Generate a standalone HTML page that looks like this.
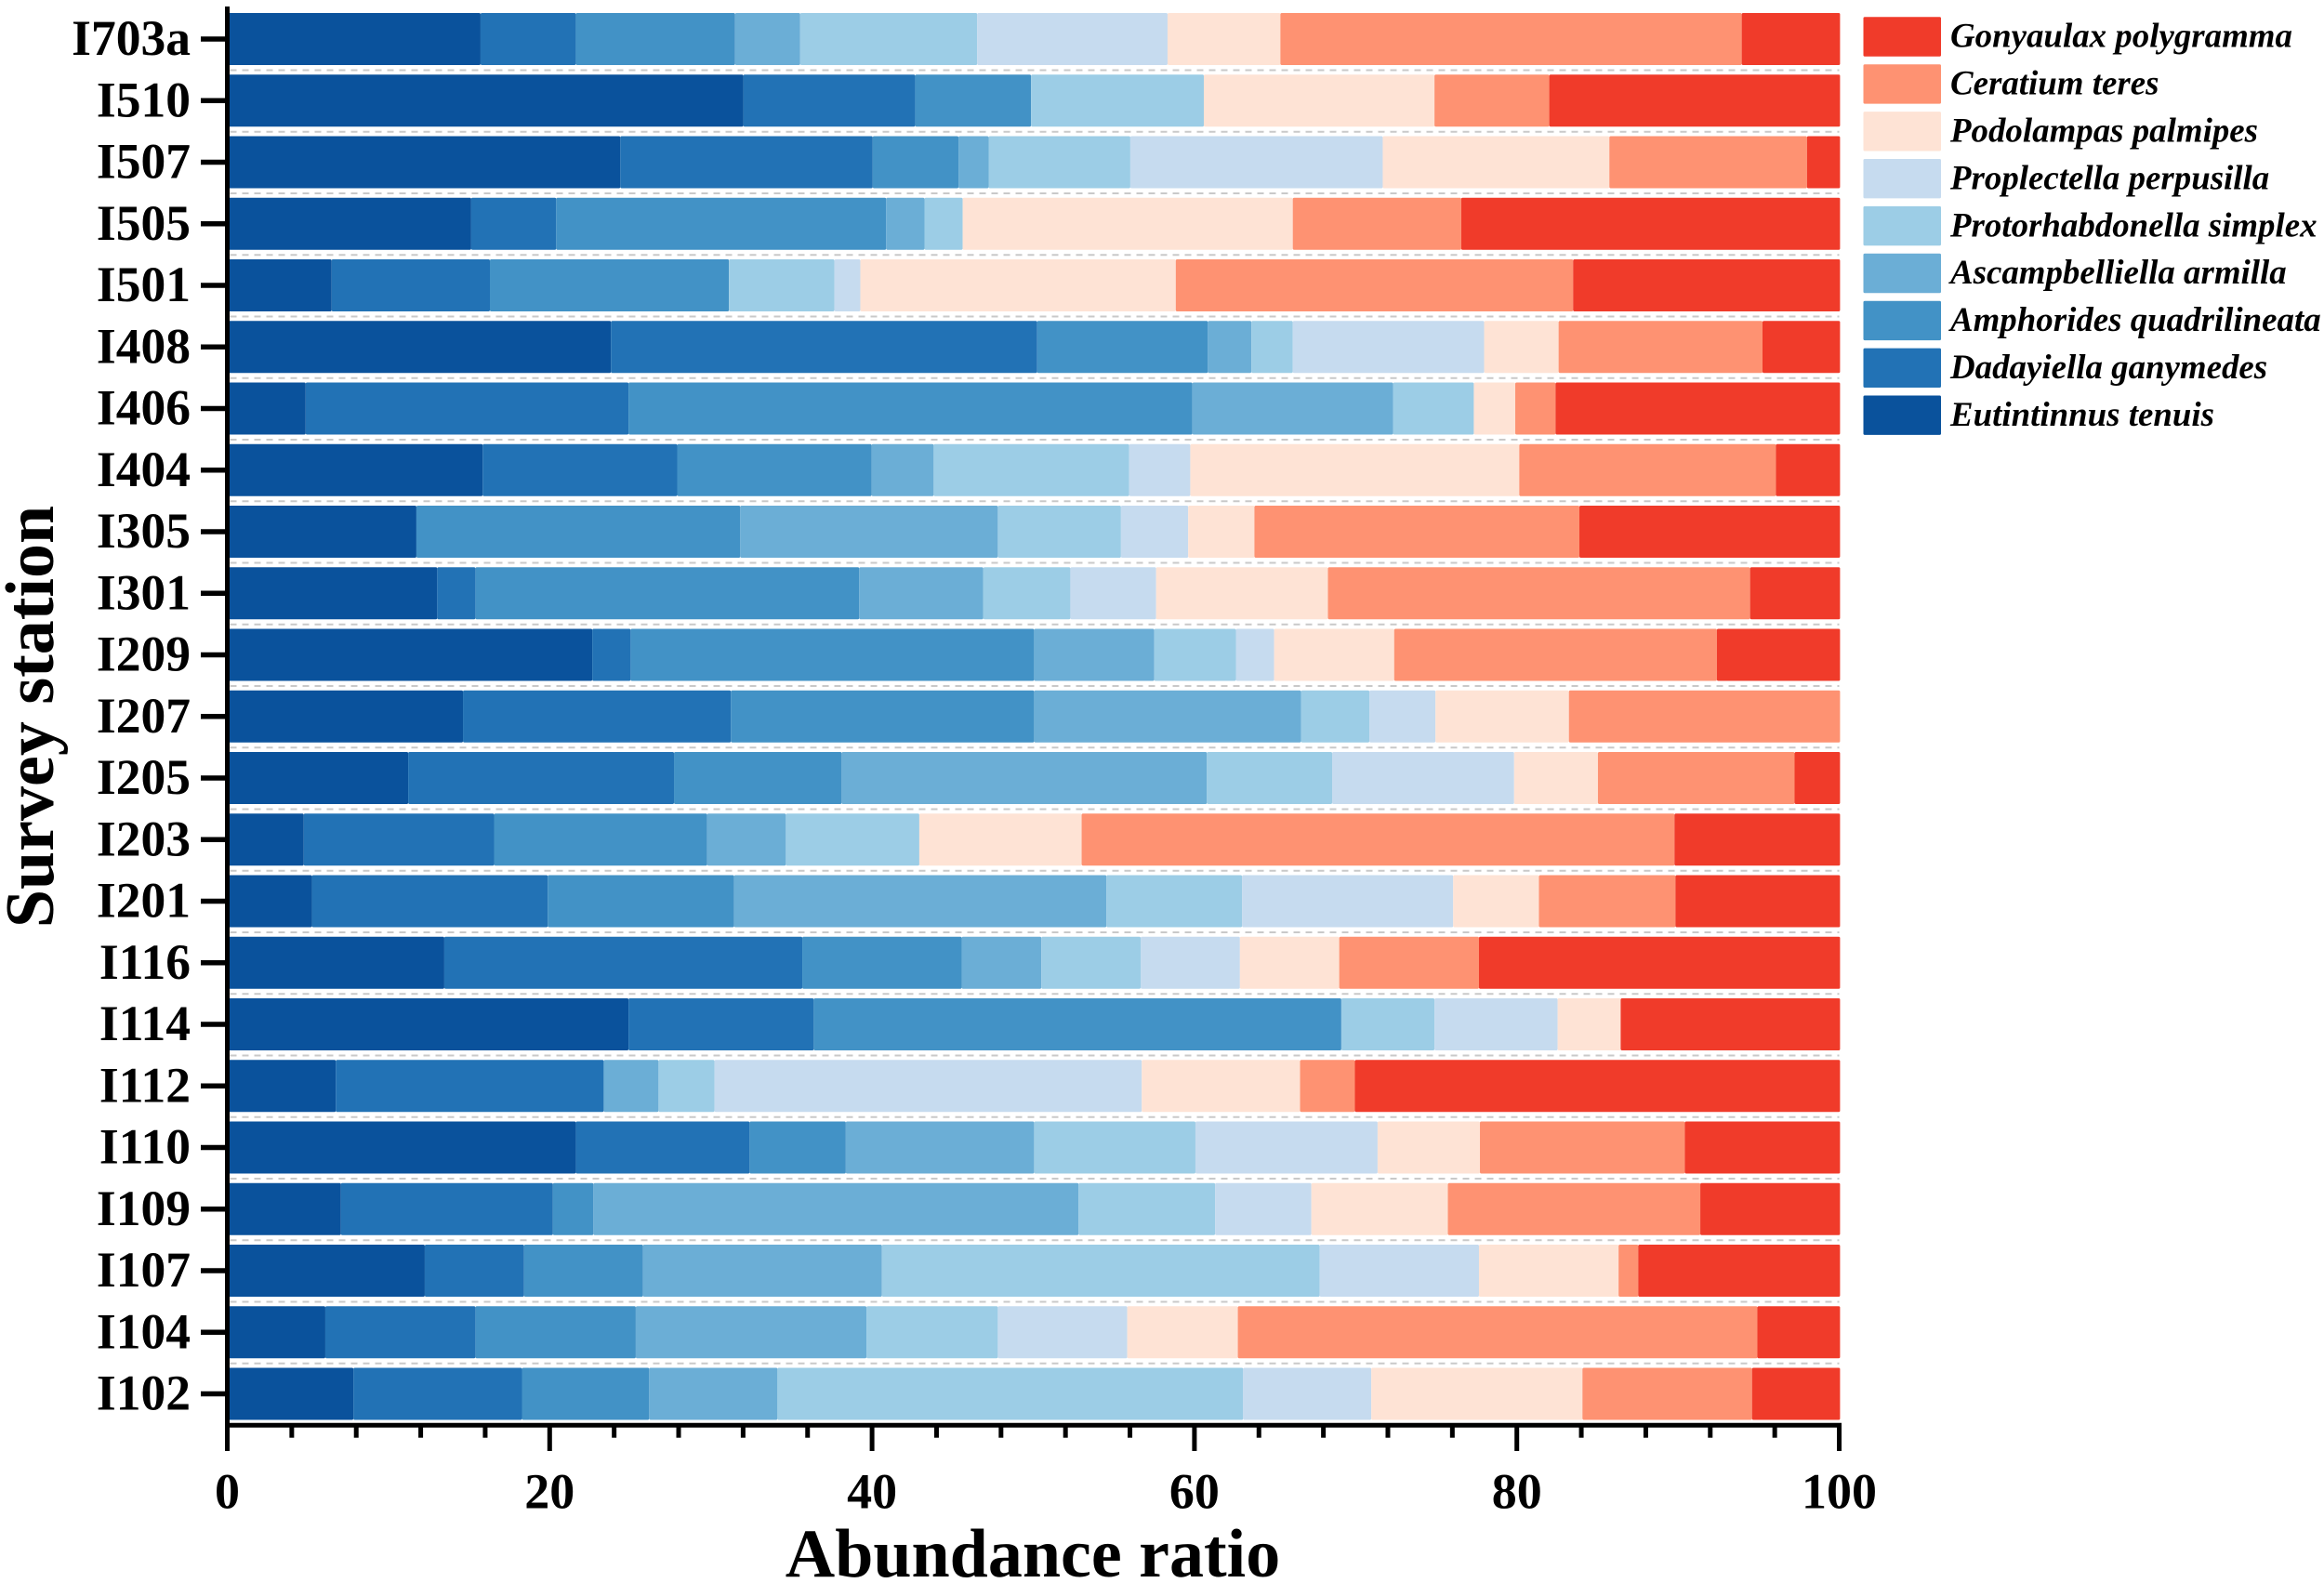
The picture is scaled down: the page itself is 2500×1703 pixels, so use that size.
<!DOCTYPE html>
<html lang="en">
<head>
<meta charset="utf-8">
<title>Abundance ratio by survey station</title>
<style>
html,body{margin:0;padding:0;background:#fff;}
svg{display:block;}
text{font-family:"Liberation Serif","Times New Roman",serif;font-weight:bold;fill:#000;}
</style>
</head>
<body>
<svg id="chart" xmlns="http://www.w3.org/2000/svg" width="2500" height="1703" viewBox="0 0 2500 1703">
  <rect x="0" y="0" width="2500" height="1703" fill="#ffffff"/>
  <g id="separators"></g>
  <g id="bars"></g>
  <g id="axes"></g>
  <g id="legend"></g>
  <text x="1111" y="1696" font-size="74" text-anchor="middle">Abundance ratio</text>
  <text transform="translate(57,771) rotate(-90)" font-size="74" text-anchor="middle">Survey station</text>
</svg>
<script>
const categories = ["I703a","I510","I507","I505","I501","I408","I406","I404","I305","I301","I209","I207","I205","I203","I201","I116","I114","I112","I110","I109","I107","I104","I102"];
const eutintinnus = [15.66,31.96,24.33,15.08,6.42,23.75,4.81,15.79,11.68,12.97,22.59,14.57,11.17,4.69,5.2,13.41,24.84,6.68,21.57,7,12.2,6.03,7.77];
const dadayiella = [5.91,10.66,15.66,5.27,9.82,26.44,20.03,12.07,0,2.37,2.38,16.62,16.49,11.81,14.63,22.21,11.49,16.62,10.78,13.15,6.16,9.31,10.46];
const amphorides = [9.88,7.19,5.32,20.47,14.83,10.59,34.98,12.06,20.09,23.81,25.03,18.81,10.4,13.22,11.56,9.89,32.73,0,5.97,2.51,7.38,9.95,7.89];
const ascampbelliella = [4.04,0,1.87,2.38,0,2.7,12.45,3.85,15.98,7.7,7.45,16.56,22.66,4.88,23.1,4.94,0,3.4,11.68,30.1,14.82,14.31,7.96];
const protorhabdonella = [10.98,10.72,8.79,2.37,6.54,2.57,5.01,12.13,7.64,5.4,5.07,4.24,7.77,8.28,8.41,6.16,5.78,3.47,10.01,8.47,27.16,8.15,28.89];
const proplectella = [11.81,0,15.66,0,1.61,11.87,0,3.79,4.17,5.32,2.37,4.1,11.29,0,13.1,6.16,7.64,26.51,11.3,5.97,9.88,8.03,7.95];
const podolampas = [7,14.31,14.06,20.48,19.57,4.62,2.57,20.41,4.11,10.66,7.45,8.28,5.2,10.07,5.32,6.16,3.91,9.82,6.35,8.47,8.66,6.86,13.1];
const ceratium = [28.62,7.12,12.26,10.45,24.65,12.65,2.5,15.92,20.16,26.19,20.02,16.82,12.2,36.78,8.47,8.67,0,3.4,12.71,15.66,1.22,32.23,10.52];
const gonyaulax = [6.1,18.04,2.05,23.5,16.56,4.81,17.65,3.98,16.17,5.58,7.64,0,2.82,10.27,10.21,22.4,13.61,30.1,9.63,8.67,12.52,5.13,5.46];
const xTickLabels = [0,20,40,60,80,100];
const minorTickValues = [4,8,12,16,24,28,32,36,44,48,52,56,64,68,72,76,84,88,92,96];
const seriesNames = ["Eutintinnus tenuis","Dadayiella ganymedes","Amphorides quadrilineata","Ascampbelliella armilla","Protorhabdonella simplex","Proplectella perpusilla","Podolampas palmipes","Ceratium teres","Gonyaulax polygramma"];
const seriesValues = [eutintinnus,dadayiella,amphorides,ascampbelliella,protorhabdonella,proplectella,podolampas,ceratium,gonyaulax];
const seriesColors = ["#0a529c","#2272b5","#4292c6","#6baed6","#9ccde6","#c6dbef","#fee3d5","#fe9272","#f03b2a"];

const NS = "http://www.w3.org/2000/svg";
function xScale(v){ return 244.5 + 17.34 * v; }
function barScale(v){ return xScale(v) + 0.9; }
function rowTop(i){ return 14 + 66.25 * i; }
function rowCenter(i){ return rowTop(i) + 28; }
const BAR_H = 56;
function slug(s){ return s.toLowerCase().replace(/\s+/g,'-'); }
function mk(parent, tag, attrs, txt){
  const el = document.createElementNS(NS, tag);
  for (const k in attrs) el.setAttribute(k, attrs[k]);
  if (txt !== undefined) el.textContent = txt;
  parent.appendChild(el);
  return el;
}
const gSep = document.getElementById('separators');
const gBars = document.getElementById('bars');
const gAxes = document.getElementById('axes');
const gLegend = document.getElementById('legend');

/* separators */
for (let i = 0; i < categories.length - 1; i++) {
  const y = rowTop(i) + BAR_H + 5.5;
  const sep = mk(gSep, 'line', {x1:xScale(0)+3, x2:xScale(100), y1:y, y2:y, stroke:'#c9c9c9', 'stroke-width':2, 'stroke-dasharray':'7 6'});
  
  
}

/* bars */
categories.forEach(function(cat, r){
  let acc = 0;
  seriesValues.forEach(function(vals, s){
    const v = vals[r];
    if (v > 0) {
      const seg = mk(gBars, 'rect', {x:barScale(acc), y:rowTop(r), width:barScale(acc+v)-barScale(acc), height:BAR_H, fill:seriesColors[s], rx:1.5});
      
      
    }
    acc += v;
  });
});

/* y axis */
const yLine = mk(gAxes, 'line', {x1:xScale(0), x2:xScale(0), y1:7, y2:1561, stroke:'#000', 'stroke-width':5});


categories.forEach(function(cat, r){
  const t = mk(gAxes, 'line', {x1:216, x2:243, y1:rowCenter(r), y2:rowCenter(r), stroke:'#000', 'stroke-width':5.5});
  
  
  const l = mk(gAxes, 'text', {x:205, y:rowCenter(r)+17, 'font-size':53.5, 'text-anchor':'end'}, cat);
  
  
});

/* x axis */
const xLine = mk(gAxes, 'line', {x1:242, x2:xScale(100)+2.5, y1:1533.3, y2:1533.3, stroke:'#000', 'stroke-width':5});


minorTickValues.forEach(function(v){
  const t = mk(gAxes, 'line', {x1:xScale(v), x2:xScale(v), y1:1533, y2:1546.7, stroke:'#000', 'stroke-width':5});
  
  
});
xTickLabels.forEach(function(v){
  const t = mk(gAxes, 'line', {x1:xScale(v), x2:xScale(v), y1:1533, y2:1561, stroke:'#000', 'stroke-width':5});
  
  
  const l = mk(gAxes, 'text', {x:xScale(v), y:1622.5, 'font-size':54, 'text-anchor':'middle'}, String(v));
  
  
});

/* legend: reversed stack order, top to bottom */
for (let k = 0; k < seriesNames.length; k++) {
  const s = seriesNames.length - 1 - k;
  const y = 18.3 + 50.9 * k;
  const sw = mk(gLegend, 'rect', {x:2004.5, y:y, width:83.5, height:42.4, fill:seriesColors[s], rx:1.5});
  
  
  const lab = mk(gLegend, 'text', {x:2098, y:y+32.4, 'font-size':36.9, 'font-style':'italic'}, seriesNames[s]);
  
  
}
</script>
</body>
</html>
